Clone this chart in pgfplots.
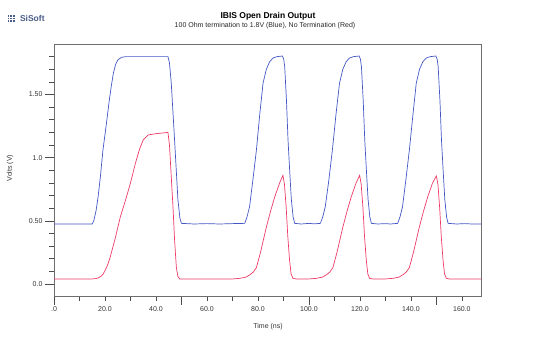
\documentclass[border=0pt]{standalone}
\usepackage{pgfplots}
\pgfplotsset{compat=1.18}
\usepackage{fontspec}
\setmainfont{Liberation Sans}
\definecolor{trblue}{RGB}{66,86,196}
\definecolor{trred}{RGB}{238,58,100}
\definecolor{logoc}{RGB}{72,92,135}
\definecolor{axgray}{RGB}{110,110,110}
\begin{document}
\begin{tikzpicture}[x=1pt,y=1pt]
\useasboundingbox (0,0) rectangle (536,340);
% logo
\foreach \i in {0,1,2}{\foreach \j in {0,1,2}{\fill[logoc] (7.5+\i*2.6,318+\j*2.6) rectangle ++(1.8,1.8);}}
\node[anchor=west,text=logoc,font=\fontsize{8.5}{9}\selectfont\bfseries] at (16.5,321.5) {SiSoft};
% titles
\node[font=\fontsize{8.5}{10}\selectfont\bfseries] at (268,324) {IBIS Open Drain Output};
\node[font=\fontsize{7}{8}\selectfont,text=black!85] at (265,314) {100 Ohm termination to 1.8V (Blue), No Termination (Red)};
\node[font=\fontsize{7}{8}\selectfont,text=black!80] at (268,13) {Time (ns)};
\node[font=\fontsize{7}{8}\selectfont,text=black!80,rotate=90] at (10,172) {Volts (V)};
\begin{axis}[
  at={(54pt,44pt)}, anchor=south west,
  scale only axis, width=427pt, height=252pt,
  xmin=0, xmax=167.5, ymin=-0.095, ymax=1.9,
  axis line style={draw=axgray, line width=0.7pt},
  tick style={draw=black!70, line width=0.6pt},
  tick align=outside, tick pos=left,
  major tick length=5pt, minor tick length=9pt,
  xtick={0,10,...,160},
  xticklabels={.0,,20.0,,40.0,,60.0,,80.0,,100.0,,120.0,,140.0,,160.0},
  minor xtick={0,50,100,150},
  ytick={0,0.1,0.2,0.3,0.4,0.5,0.6,0.7,0.8,0.9,1.0,1.1,1.2,1.3,1.4,1.5,1.6,1.7,1.8},
  yticklabels={0.0,,,,,0.50,,,,,1.0,,,,,1.50,,,},
  minor ytick={0,0.5,1.0,1.5},
  ticklabel style={font=\fontsize{7}{8}\selectfont, text=black!80},
  xticklabel style={yshift=-2pt},
  yticklabel style={xshift=-3pt},
]
\addplot[trblue, line width=0.7pt] coordinates {
(0,0.475) (15,0.475) (15.6,0.50) (16.5,0.58) (17.3,0.69) (18.2,0.85) (19.2,1.06) (20.5,1.26) (21.6,1.44) (22.5,1.57) (23.3,1.67) (24.2,1.74) (25.1,1.775) (26.5,1.795) (28.4,1.80) (44.7,1.80) (45.3,1.75) (46,1.59) (47.3,1.14) (48.6,0.67) (49.4,0.52) (50,0.48) (55,0.475) (60,0.478) (65,0.475) (70,0.478) (74.8,0.48)
(75.7,0.53) (76.7,0.61) (78,0.82) (79.4,1.06) (80.7,1.34) (82,1.59) (83.3,1.70) (84.6,1.76) (86,1.79) (87.5,1.80) (89.6,1.805) (90.1,1.78) (90.5,1.72) (91.2,1.45) (91.8,1.14) (92.5,0.88) (93.1,0.67) (93.8,0.53) (94.4,0.48) (97,0.475) (100,0.48) (102,0.476) (104.5,0.48)
(105.4,0.53) (106.4,0.61) (107.8,0.82) (109.2,1.06) (110.6,1.34) (112,1.59) (113.3,1.70) (114.6,1.76) (116,1.79) (117.5,1.80) (119.7,1.805) (120.2,1.78) (120.6,1.72) (121.3,1.45) (121.9,1.14) (122.6,0.88) (123.2,0.67) (123.9,0.53) (124.5,0.48) (127,0.475) (130,0.478) (132,0.475) (134.8,0.48)
(135.7,0.53) (136.7,0.61) (138,0.82) (139.4,1.06) (140.8,1.34) (142.1,1.59) (143.4,1.70) (144.7,1.76) (146.1,1.79) (147.6,1.80) (149.8,1.805) (150.3,1.78) (150.7,1.72) (151.4,1.45) (152,1.14) (152.7,0.88) (153.3,0.67) (154,0.53) (154.6,0.48) (158,0.475) (161,0.478) (164,0.475) (167.5,0.475)
};
\addplot[trred, line width=0.7pt] coordinates {
(0,0.04) (15,0.04) (16.5,0.043) (17.5,0.05) (18.5,0.062) (19.3,0.08) (20,0.105) (21,0.15) (22,0.21) (24,0.36) (26,0.53) (28,0.66) (30,0.80) (32,0.96) (33.6,1.07) (35,1.14) (36.9,1.18) (40,1.19) (44.7,1.20) (45.3,1.10) (46,0.85) (46.7,0.60) (47.3,0.35) (48,0.13) (48.6,0.06) (49.3,0.04) (55,0.04) (65,0.04) (70,0.04)
(73,0.045) (75.4,0.055) (77,0.075) (78.2,0.095) (79.4,0.13) (81,0.25) (83.3,0.45) (85,0.58) (86.6,0.69) (88.5,0.80) (89.8,0.86) (90.4,0.79) (91.1,0.60) (91.7,0.38) (92.4,0.19) (93,0.08) (93.7,0.045) (95,0.04) (100,0.04)
(103,0.045) (105.4,0.055) (107,0.075) (108.2,0.095) (109.4,0.13) (111,0.25) (113.3,0.45) (115,0.58) (116.6,0.69) (118.5,0.80) (119.9,0.86) (120.5,0.79) (121.2,0.60) (121.8,0.38) (122.5,0.19) (123.1,0.08) (123.8,0.045) (125,0.04) (130,0.04)
(133,0.045) (135.4,0.055) (137,0.075) (138.2,0.095) (139.4,0.13) (141,0.25) (143.3,0.45) (145,0.58) (146.6,0.69) (148.5,0.80) (150,0.855) (150.6,0.79) (151.3,0.60) (151.9,0.38) (152.6,0.19) (153.2,0.08) (153.9,0.045) (155,0.04) (167.5,0.04)
};
\end{axis}
\end{tikzpicture}
\end{document}
